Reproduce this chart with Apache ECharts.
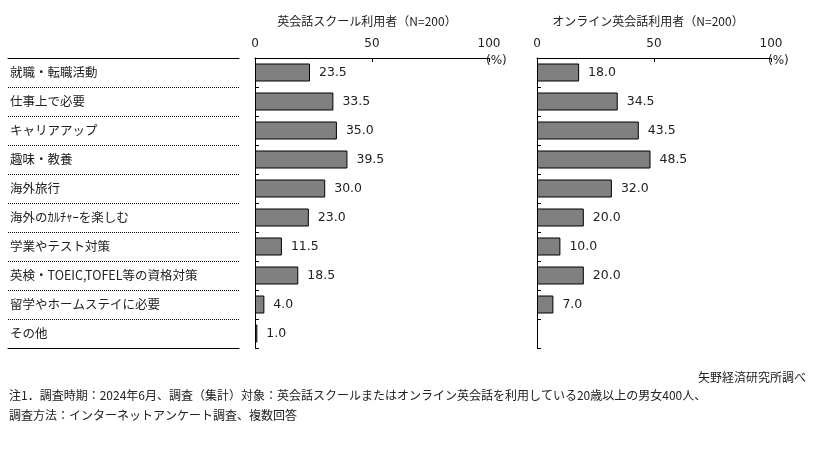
<!DOCTYPE html>
<html><head><meta charset="utf-8">
<script src="https://cdn.jsdelivr.net/npm/echarts@6/dist/echarts.min.js"></script>
<style>html,body{margin:0;padding:0;background:#fff;}#c{width:814px;height:451px;}</style>
</head><body><div id="c"></div>
<script>
const categories = ['就職・転職活動','仕事上で必要','キャリアアップ','趣味・教養','海外旅行','海外のｶﾙﾁｬｰを楽しむ','学業やテスト対策','英検・TOEIC,TOFEL等の資格対策','留学やホームステイに必要','その他'];
const schoolValues = [23.5, 33.5, 35.0, 39.5, 30.0, 23.0, 11.5, 18.5, 4.0, 1.0];
const onlineValues = [18.0, 34.5, 43.5, 48.5, 32.0, 20.0, 10.0, 20.0, 7.0, null];
const titles = ['英会話スクール利用者（N=200）','オンライン英会話利用者（N=200）'];
const source = '矢野経済研究所調べ';
const notes = ['注1．調査時期：2024年6月、調査（集計）対象：英会話スクールまたはオンライン英会話を利用している20歳以上の男女400人、','調査方法：インターネットアンケート調査、複数回答'];

const JP = '"Noto Sans CJK JP", sans-serif';
const NUM = '"DejaVu Sans", sans-serif';
const chart = echarts.init(document.getElementById('c'));

function valAxis(gi){
  return {type:'value', gridIndex:gi, position:'top', min:0, max:100, interval:50,
    axisLine:{show:true, lineStyle:{color:'#000', width:1}},
    axisTick:{show:true, inside:true, length:4, lineStyle:{color:'#000'}},
    axisLabel:{color:'#222', fontSize:12, fontFamily:NUM, margin:8},
    splitLine:{show:false}};
}
function catAxis(gi){
  return {type:'category', gridIndex:gi, data:categories, inverse:true,
    axisLine:{show:true, lineStyle:{color:'#000'}},
    axisTick:{show:true, inside:true, length:4, lineStyle:{color:'#000'}},
    axisLabel:{show:false}};
}
function barSeries(gi, data){
  return {type:'bar', xAxisIndex:gi, yAxisIndex:gi, data:data, barWidth:18,
    itemStyle:{color:'#808080', borderColor:'#000', borderWidth:1},
    label:{show:true, position:'right', distance:9, color:'#222', fontSize:12.5, fontFamily:NUM,
      formatter:p=>p.value==null?'':Number(p.value).toFixed(1)},
    silent:true};
}

chart.setOption({
  animation:false,
  title:[
    {text:titles[0], left:362, top:10, textAlign:'center', textStyle:{fontSize:12, fontWeight:'normal', color:'#222', fontFamily:JP}},
    {text:titles[1], left:643, top:10, textAlign:'center', textStyle:{fontSize:12, fontWeight:'normal', color:'#222', fontFamily:JP}}
  ],
  grid:[
    {left:8, width:231, top:58, height:290},
    {left:255, width:234, top:58, height:290},
    {left:537, width:234, top:58, height:290}
  ],
  xAxis:[
    {type:'value', gridIndex:0, position:'top', min:0, max:100,
      axisLine:{show:true, lineStyle:{color:'#000', width:1}}, axisTick:{show:false}, axisLabel:{show:false}, splitLine:{show:false}},
    valAxis(1), valAxis(2),
    {type:'value', gridIndex:0, position:'bottom', min:0, max:100,
      axisLine:{show:true, lineStyle:{color:'#000', width:1}}, axisTick:{show:false}, axisLabel:{show:false}, splitLine:{show:false}}
  ],
  yAxis:[
    {type:'category', gridIndex:0, data:categories, inverse:true,
      axisLine:{show:false}, axisTick:{show:false},
      axisLabel:{show:true, inside:true, margin:2, color:'#222', fontSize:12.5, fontFamily:JP},
      splitLine:{show:true, lineStyle:{color:'#000', type:[1,1], width:1}}},
    catAxis(1), catAxis(2)
  ],
  series:[barSeries(1, schoolValues), barSeries(2, onlineValues)],
  graphic:[
    {type:'text', left:486, top:55, style:{text:'(%)', fill:'#222', font:'12px '+NUM}},
    {type:'text', left:768, top:55, style:{text:'(%)', fill:'#222', font:'12px '+NUM}},
    {type:'text', right:8, top:371, style:{text:source, fill:'#222', font:'12px '+JP}},
    {type:'text', left:9, top:389, style:{text:notes[0], fill:'#222', font:'12px '+JP}},
    {type:'text', left:9, top:409, style:{text:notes[1], fill:'#222', font:'12px '+JP}}
  ]
});
</script></body></html>
